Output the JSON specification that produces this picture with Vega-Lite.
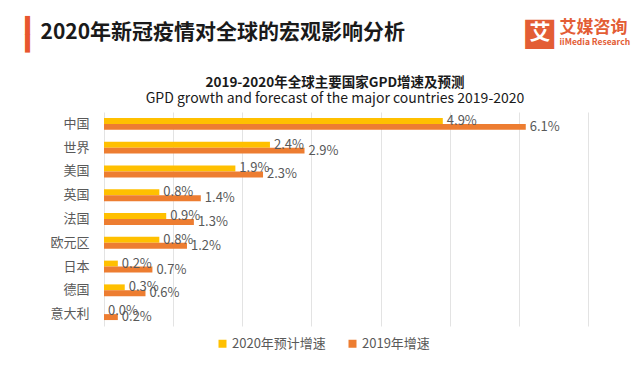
{
  "$schema": "https://vega.github.io/schema/vega-lite/v6.json",
  "autosize": {"type": "none"},
  "width": 484,
  "height": 214,
  "padding": {"left": 104, "top": 112, "right": 52, "bottom": 48},
  "background": "white",
  "config": {"font": "Noto Sans CJK SC", "view": {"stroke": null}},
  "title": {
    "text": "2019-2020年全球主要国家GPD增速及预测",
    "subtitle": "GPD growth and forecast of the major countries 2019-2020",
    "anchor": "middle",
    "frame": "group",
    "dx": -11,
    "dy": 98,
    "fontSize": 13.5,
    "fontWeight": "bold",
    "color": "#1a1a1a",
    "subtitleFontSize": 14,
    "subtitleColor": "#1a1a1a",
    "subtitlePadding": 2,
    "offset": 6
  },
  "data": {
    "values": [
      {"country": "中国", "series": "2020年预计增速", "value": 0.049},
      {"country": "中国", "series": "2019年增速", "value": 0.061},
      {"country": "世界", "series": "2020年预计增速", "value": 0.024},
      {"country": "世界", "series": "2019年增速", "value": 0.029},
      {"country": "美国", "series": "2020年预计增速", "value": 0.019},
      {"country": "美国", "series": "2019年增速", "value": 0.023},
      {"country": "英国", "series": "2020年预计增速", "value": 0.008},
      {"country": "英国", "series": "2019年增速", "value": 0.014},
      {"country": "法国", "series": "2020年预计增速", "value": 0.009},
      {"country": "法国", "series": "2019年增速", "value": 0.013},
      {"country": "欧元区", "series": "2020年预计增速", "value": 0.008},
      {"country": "欧元区", "series": "2019年增速", "value": 0.012},
      {"country": "日本", "series": "2020年预计增速", "value": 0.002},
      {"country": "日本", "series": "2019年增速", "value": 0.007},
      {"country": "德国", "series": "2020年预计增速", "value": 0.003},
      {"country": "德国", "series": "2019年增速", "value": 0.006},
      {"country": "意大利", "series": "2020年预计增速", "value": 0.0},
      {"country": "意大利", "series": "2019年增速", "value": 0.002}
    ]
  },
  "encoding": {
    "y": {"field": "country", "type": "nominal", "sort": null,
      "scale": {"paddingInner": 0.5, "paddingOuter": 0.25}},
    "yOffset": {"field": "series", "type": "nominal", "sort": ["2020年预计增速", "2019年增速"]},
    "x": {"field": "value", "type": "quantitative", "scale": {"domain": [0, 0.07], "nice": false}}
  },
  "layer": [
    {
      "mark": {"type": "bar"},
      "encoding": {
        "x": {"field": "value", "type": "quantitative", "scale": {"domain": [0, 0.07], "nice": false},
          "axis": {"orient": "top", "values": [0, 0.01, 0.02, 0.03, 0.04, 0.05, 0.06, 0.07],
            "grid": true, "gridColor": "#e3e3e3", "labels": false, "ticks": false, "domain": false,
            "title": "2020年新冠疫情对全球的宏观影响分析",
            "titleX": -64, "titleY": -80, "titleAlign": "left", "titleBaseline": "middle", "titleAngle": 0,
            "titleFontSize": 21, "titleFontWeight": "bold", "titleColor": "#1a1a1a"}},
        "y": {"field": "country", "type": "nominal", "sort": null,
          "axis": {"ticks": false, "domain": false, "labelFontSize": 13, "labelColor": "#595959", "labelPadding": 15,
            "title": "━━", "titleFont": "DejaVu Sans Mono", "titleFontSize": 30, "titleFontWeight": "normal",
            "titleColor": "#E8562E", "titleX": -75.5, "titleY": -78, "titleAngle": -90, "titleAlign": "center", "titleBaseline": "middle"}},
        "color": {"field": "series", "type": "nominal", "sort": ["2020年预计增速", "2019年增速"],
          "scale": {"domain": ["2020年预计增速", "2019年增速"], "range": ["#FFC000", "#ED7D31"]},
          "legend": {"orient": "none", "legendX": 112, "legendY": 225, "direction": "horizontal", "title": null,
            "symbolType": "square", "symbolSize": 64, "symbolStrokeWidth": 0, "labelFontSize": 13, "labelColor": "#595959",
            "columnPadding": 20, "labelOffset": 3}}
      }
    },
    {
      "mark": {"type": "text", "align": "left", "baseline": "middle", "dx": 4, "fontSize": 13, "color": "#595959"},
      "encoding": {
        "x": {"field": "value", "type": "quantitative", "scale": {"domain": [0, 0.07], "nice": false},
          "axis": {"orient": "bottom", "labels": false, "ticks": false, "domain": false, "grid": false,
            "title": "艾媒咨询", "titleX": 455, "titleY": -298.5, "titleAlign": "left", "titleBaseline": "middle",
            "titleFontSize": 17, "titleFontWeight": "bold", "titleColor": "#E35D35"}},
        "y": {"field": "country", "type": "nominal", "sort": null,
          "axis": {"orient": "right", "labels": false, "ticks": false, "domain": false, "grid": false,
            "title": "iiMedia Research", "titleX": -29, "titleY": -70.5, "titleAngle": 0, "titleAlign": "left",
            "titleBaseline": "middle", "titleFontSize": 8.5, "titleFontWeight": "bold", "titleColor": "#E35D35"}},
        "text": {"field": "value", "type": "quantitative", "format": ".1%"}
      }
    },
    {
      "mark": {"type": "bar", "opacity": 0},
      "encoding": {
        "x": {"field": "value", "type": "quantitative", "scale": {"domain": [0, 0.07], "nice": false}, "axis": null},
        "y": {"field": "country", "type": "nominal", "sort": null,
          "axis": {"orient": "left", "labels": false, "ticks": false, "domain": false, "grid": false,
            "title": "■", "titleFont": "DejaVu Sans", "titleFontSize": 38, "titleFontWeight": "normal",
            "titleColor": "#E35D35", "titleX": 435.5, "titleY": -79.5, "titleAngle": 0, "titleAlign": "center", "titleBaseline": "middle"}}
      }
    },
    {
      "mark": {"type": "bar", "opacity": 0},
      "encoding": {
        "x": {"field": "value", "type": "quantitative", "scale": {"domain": [0, 0.07], "nice": false}, "axis": null},
        "y": {"field": "country", "type": "nominal", "sort": null,
          "axis": {"orient": "left", "labels": false, "ticks": false, "domain": false, "grid": false, "zindex": 1,
            "title": "艾", "titleFontSize": 21, "titleFontWeight": "bold",
            "titleColor": "#ffffff", "titleX": 435.5, "titleY": -79.5, "titleAngle": 0, "titleAlign": "center", "titleBaseline": "middle"}}
      }
    }
  ],
  "resolve": {"axis": {"x": "independent", "y": "independent"}}
}
